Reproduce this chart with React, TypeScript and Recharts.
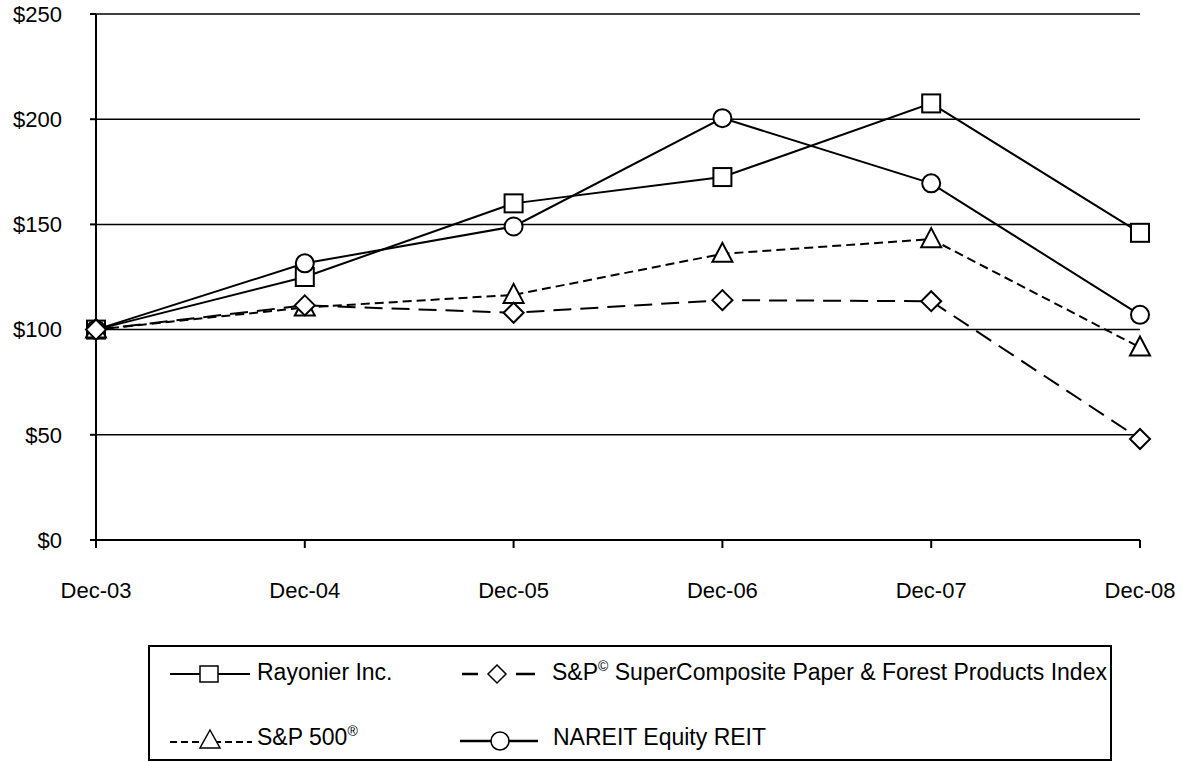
import React from 'react';
import { LineChart, Line, XAxis, YAxis, CartesianGrid } from 'recharts';

const categories = ['Dec-03', 'Dec-04', 'Dec-05', 'Dec-06', 'Dec-07', 'Dec-08'];
const rayonier = [100, 125, 160, 172.5, 207.5, 146];
const nareit = [100, 131.5, 149, 200.5, 169.5, 107];
const sp500 = [100, 110.5, 116.5, 136, 143, 91.5];
const paperIndex = [100, 111.5, 108, 114, 113.5, 48];
const yTicks = [0, 50, 100, 150, 200, 250];

const data = categories.map((c, i) => ({
  name: c,
  rayonier: rayonier[i],
  nareit: nareit[i],
  sp500: sp500[i],
  paper: paperIndex[i],
}));

const FONT = '"Liberation Sans", Arial, Helvetica, sans-serif';

const SquareDot = (p: any) => {
  const { cx, cy, index } = p;
  if (cx == null || cy == null) return <g key={`sq-${index}`} />;
  return <rect key={`sq-${index}`} x={cx - 9} y={cy - 9} width={18} height={18} fill="#fff" stroke="#000" strokeWidth={2} />;
};
const CircleDot = (p: any) => {
  const { cx, cy, index } = p;
  if (cx == null || cy == null) return <g key={`ci-${index}`} />;
  return <circle key={`ci-${index}`} cx={cx} cy={cy} r={9} fill="#fff" stroke="#000" strokeWidth={2} />;
};
const TriangleDot = (p: any) => {
  const { cx, cy, index } = p;
  if (cx == null || cy == null) return <g key={`tr-${index}`} />;
  return (
    <polygon
      key={`tr-${index}`}
      points={`${cx},${cy - 11} ${cx + 10},${cy + 8} ${cx - 10},${cy + 8}`}
      fill="#fff"
      stroke="#000"
      strokeWidth={2}
    />
  );
};
const DiamondDot = (p: any) => {
  const { cx, cy, index } = p;
  if (cx == null || cy == null) return <g key={`di-${index}`} />;
  return (
    <polygon
      key={`di-${index}`}
      points={`${cx},${cy - 10} ${cx + 10},${cy} ${cx},${cy + 10} ${cx - 10},${cy}`}
      fill="#fff"
      stroke="#000"
      strokeWidth={2}
    />
  );
};

const legendText: React.CSSProperties = {
  position: 'absolute',
  fontFamily: FONT,
  fontSize: 23,
  color: '#000',
  whiteSpace: 'nowrap',
  lineHeight: '26px',
};

export default function App() {
  return (
    <div style={{ position: 'absolute', left: 0, top: 0, width: 1182, height: 762, background: '#fff' }}>
      <LineChart
        width={1182}
        height={762}
        data={data}
        margin={{ top: 14, right: 42, left: 10, bottom: 172 }}
      >
        <CartesianGrid horizontal vertical={false} stroke="#000" strokeWidth={1.5} strokeOpacity={1} />
        <XAxis
          dataKey="name"
          scale="point"
          padding={{ left: 0, right: 0 }}
          height={50}
          axisLine={{ stroke: '#000', strokeWidth: 2 }}
          tickLine={{ stroke: '#000', strokeWidth: 2 }}
          tickSize={8}
          tickMargin={34}
          tick={{ fill: '#000', fontSize: 22, fontFamily: FONT }}
          interval={0}
        />
        <YAxis
          domain={[0, 250]}
          ticks={yTicks}
          width={86}
          axisLine={{ stroke: '#000', strokeWidth: 2 }}
          tickLine={{ stroke: '#000', strokeWidth: 2 }}
          tickSize={6}
          tickMargin={28}
          tick={{ fill: '#000', fontSize: 22, fontFamily: FONT }}
          tickFormatter={(v: number) => `$${v}`}
          interval={0}
        />
        <Line
          type="linear"
          dataKey="rayonier"
          stroke="#000"
          strokeWidth={2}
          dot={SquareDot}
          activeDot={false}
          isAnimationActive={false}
        />
        <Line
          type="linear"
          dataKey="nareit"
          stroke="#000"
          strokeWidth={2}
          dot={CircleDot}
          activeDot={false}
          isAnimationActive={false}
        />
        <Line
          type="linear"
          dataKey="sp500"
          stroke="#000"
          strokeWidth={2}
          strokeDasharray="9 5"
          dot={TriangleDot}
          activeDot={false}
          isAnimationActive={false}
        />
        <Line
          type="linear"
          dataKey="paper"
          stroke="#000"
          strokeWidth={2}
          strokeDasharray="18 9"
          dot={DiamondDot}
          activeDot={false}
          isAnimationActive={false}
        />
      </LineChart>

      <div
        style={{
          position: 'absolute',
          left: 148,
          top: 645,
          width: 964,
          height: 116,
          border: '2px solid #000',
          boxSizing: 'border-box',
        }}
      >
        <svg style={{ position: 'absolute', left: 20, top: 16 }} width={82} height={22}>
          <line x1={0} y1={11} x2={80} y2={11} stroke="#000" strokeWidth={2} />
          <rect x={30} y={3} width={18} height={16} fill="#fff" stroke="#000" strokeWidth={1.5} />
        </svg>
        <div style={{ ...legendText, left: 107, top: 12 }}>Rayonier Inc.</div>

        <svg style={{ position: 'absolute', left: 310, top: 16 }} width={80} height={22}>
          <line x1={2} y1={11} x2={18} y2={11} stroke="#000" strokeWidth={2.5} />
          <polygon points="37,2 46,11 37,20 28,11" fill="#fff" stroke="#000" strokeWidth={1.5} />
          <line x1={56} y1={11} x2={75} y2={11} stroke="#000" strokeWidth={2.5} />
        </svg>
        <div style={{ ...legendText, left: 402, top: 12 }}>
          S&amp;P<sup style={{ fontSize: 14, lineHeight: 0 }}>©</sup> SuperComposite Paper &amp; Forest Products Index
        </div>

        <svg style={{ position: 'absolute', left: 20, top: 81 }} width={84} height={24}>
          <line x1={0} y1={14} x2={82} y2={14} stroke="#000" strokeWidth={2} strokeDasharray="7 4" />
          <polygon points="40,2 50,20 30,20" fill="#fff" stroke="#000" strokeWidth={1.5} />
        </svg>
        <div style={{ ...legendText, left: 107, top: 77 }}>
          S&amp;P 500<sup style={{ fontSize: 14, lineHeight: 0 }}>®</sup>
        </div>

        <svg style={{ position: 'absolute', left: 310, top: 82 }} width={82} height={22}>
          <line x1={0} y1={12} x2={78} y2={12} stroke="#000" strokeWidth={2.5} />
          <circle cx={40} cy={12} r={9} fill="#fff" stroke="#000" strokeWidth={1.5} />
        </svg>
        <div style={{ ...legendText, left: 403, top: 77 }}>NAREIT Equity REIT</div>
      </div>
    </div>
  );
}
